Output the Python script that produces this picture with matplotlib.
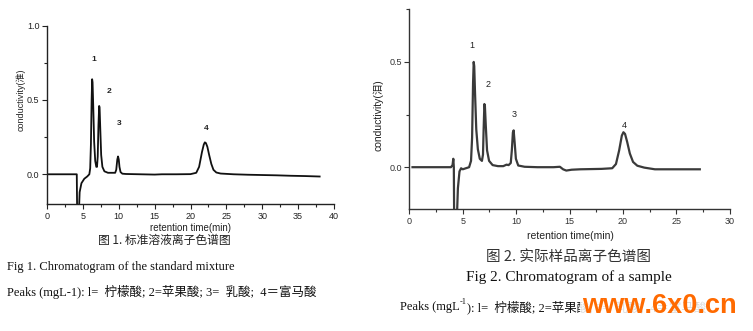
import matplotlib
matplotlib.use("Agg")
import matplotlib.pyplot as plt
from matplotlib.ticker import MultipleLocator

# ---- Fig 1: standard mixture trace (time in min, conductivity) ----
std_time = [0, 4.15, 4.2, 4.45, 4.55, 4.8, 5.2, 5.6, 5.9, 6.02, 6.12, 6.22, 6.29,
            6.35, 6.45, 6.57, 6.72, 6.87, 6.97, 7.07, 7.17, 7.27, 7.33, 7.43,
            7.55, 7.72, 8.0, 8.5, 9.0, 9.5, 9.65, 9.8, 9.9, 10.0, 10.1, 10.25,
            10.5, 11, 13, 15, 16, 18, 20, 20.8, 21.2, 21.6, 21.85, 22.0, 22.15,
            22.35, 22.6, 22.9, 23.2, 23.6, 24.2, 26, 28, 30, 32, 34, 36, 38]
std_signal = [0, 0, -0.25, -0.25, -0.12, -0.06, -0.03, -0.015, 0.0, 0.04, 0.2,
              0.5, 0.64, 0.62, 0.45, 0.22, 0.09, 0.05, 0.05, 0.12, 0.33, 0.46,
              0.45, 0.3, 0.13, 0.05, 0.02, 0.01, 0.01, 0.01, 0.03, 0.1, 0.12,
              0.1, 0.05, 0.015, 0.004, 0.002, 0.0, -0.002, 0.0, 0.0, 0.001,
              0.01, 0.05, 0.15, 0.2, 0.215, 0.21, 0.185, 0.13, 0.07, 0.03,
              0.012, 0.005, 0.0, -0.003, -0.005, -0.007, -0.01, -0.012, -0.015]
std_peak_ids = ["1", "2", "3", "4"]
std_label_time = [6.55, 8.6, 10.1, 22.25]
std_label_signal = [0.77, 0.56, 0.34, 0.31]

# ---- Fig 2: sample trace ----
smp_time = [0.3, 3.9, 4.05, 4.12, 4.17, 4.2, 4.45, 4.55, 4.7, 4.85, 5.0, 5.3,
            5.6, 5.78, 5.88, 5.97, 6.03, 6.08, 6.15, 6.27, 6.42, 6.6, 6.8, 6.9,
            6.96, 7.03, 7.08, 7.16, 7.28, 7.47, 7.8, 8.3, 8.8, 9.1, 9.3, 9.5,
            9.6, 9.7, 9.77, 9.86, 9.98, 10.2, 10.8, 12, 13.5, 14.1, 14.4, 14.7,
            15.2, 16, 18, 19.0, 19.35, 19.65, 19.9, 20.05, 20.2, 20.4, 20.65,
            20.95, 21.35, 22, 23, 25, 27.2]
smp_signal = [0, 0, 0.01, 0.04, 0.0, -0.25, -0.25, -0.1, -0.02, -0.005, -0.01,
              -0.005, 0.0, 0.03, 0.14, 0.4, 0.5, 0.48, 0.36, 0.18, 0.085, 0.04,
              0.03, 0.06, 0.18, 0.3, 0.29, 0.2, 0.08, 0.03, 0.01, 0.005, 0.005,
              0.012, 0.01, 0.02, 0.08, 0.165, 0.175, 0.12, 0.04, 0.008, 0.002,
              0.0, 0.0, 0.002, -0.01, -0.016, -0.012, -0.01, -0.008, -0.005,
              0.015, 0.08, 0.15, 0.166, 0.158, 0.12, 0.065, 0.025, 0.007,
              -0.002, -0.01, -0.01, -0.01]
smp_peak_ids = ["1", "2", "3", "4"]
smp_label_time = [5.87, 7.39, 9.82, 20.1]
smp_label_signal = [0.578, 0.395, 0.252, 0.2]

W, H = 753, 331
fig = plt.figure(figsize=(W / 100, H / 100), dpi=100)
fig.patch.set_facecolor("white")


def px(x, y):
    return x / W, 1 - y / H


def box(left, top, right, bottom):
    return [left / W, 1 - bottom / H, (right - left) / W, (bottom - top) / H]


SANS = ["Liberation Sans", "Noto Sans CJK SC"]
SERIF = ["Liberation Serif", "Noto Sans CJK SC"]
CJK = ["Noto Sans CJK SC", "Liberation Serif"]


def style_axes(ax, color, xmax, ylim, ymajor):
    for s in ("top", "right"):
        ax.spines[s].set_visible(False)
    for s in ("left", "bottom"):
        ax.spines[s].set_color(color)
        ax.spines[s].set_linewidth(1.0)
    ax.set_xlim(0, xmax)
    ax.set_ylim(*ylim)
    ax.xaxis.set_major_locator(MultipleLocator(5))
    ax.xaxis.set_minor_locator(MultipleLocator(2.5))
    ax.yaxis.set_major_locator(MultipleLocator(0.5))
    ax.yaxis.set_minor_locator(MultipleLocator(0.25))
    ax.set_yticks(ymajor)
    ax.tick_params(which="both", direction="out", colors=color,
                   labelsize=6.5, width=0.8)
    ax.tick_params(which="major", length=3.5, pad=2)
    ax.tick_params(which="minor", length=2.5)
    for lab in ax.get_xticklabels() + ax.get_yticklabels():
        lab.set_family(SANS)
    ax.yaxis.set_major_formatter(matplotlib.ticker.FormatStrFormatter("%.1f"))


# Left panel
ax1 = fig.add_axes(box(47, 25.7, 334, 204))
ax1.plot(std_time, std_signal, color="#111111", lw=1.3)
style_axes(ax1, "#222222", 40, (-0.2, 1.0), [0.0, 0.5, 1.0])
for t, v, s in zip(std_label_time, std_label_signal, std_peak_ids):
    ax1.text(t, v, s, fontsize=6, ha="center", va="center",
             family=SANS, fontweight="bold", color="#222222")
fig.text(*px(21, 100), "conductivity(淮)", rotation=90, fontsize=6.5,
         family=SANS, ha="center", va="center", color="#222222")
fig.text(*px(191, 228), "retention time(min)", fontsize=7, family=SANS,
         ha="center", va="center", color="#222222")

# Right panel
ax2 = fig.add_axes(box(409.3, 9.3, 729.7, 209.3))
ax2.plot(smp_time, smp_signal, color="#3a3a3a", lw=1.6)
style_axes(ax2, "#333333", 30, (-0.2, 0.75), [0.0, 0.5])
for t, v, s in zip(smp_label_time, smp_label_signal, smp_peak_ids):
    ax2.text(t, v, s, fontsize=6.5, ha="center", va="center",
             family=SANS, color="#222222")
fig.text(*px(378, 115), "conductivity(泪)", rotation=90, fontsize=7.5,
         family=SANS, ha="center", va="center", color="#222222")
fig.text(*px(570, 236), "retention time(min)", fontsize=7.5, family=SANS,
         ha="center", va="center", color="#222222")

# Captions, figure 1
fig.text(*px(164, 240), "图 1. 标准溶液离子色谱图", fontsize=8.5, family=CJK,
         ha="center", va="center", color="#222222")
fig.text(*px(7, 267), "Fig 1. Chromatogram of the standard mixture",
         fontsize=9, family=SERIF, ha="left", va="center", color="#111111")
fig.text(*px(7, 292), "Peaks (mgL-1): l=  柠檬酸; 2=苹果酸; 3=  乳酸;  4＝富马酸",
         fontsize=9, family=SERIF, ha="left", va="center", color="#111111")

# Captions, figure 2
fig.text(*px(569, 257), "图 2. 实际样品离子色谱图", fontsize=10.5, family=CJK,
         ha="center", va="center", color="#333333")
fig.text(*px(569, 277), "Fig 2. Chromatogram of a sample", fontsize=11,
         family=SERIF, ha="center", va="center", color="#111111")

fig.canvas.draw()
renderer = fig.canvas.get_renderer()
t1 = fig.text(*px(400, 307), "Peaks (mgL", fontsize=9, family=SERIF,
              ha="left", va="center", color="#111111")
bb = t1.get_window_extent(renderer)
t2 = fig.text(bb.x1 / W, 1 - 302 / H, "-1", fontsize=6, family=SERIF,
              ha="left", va="center", color="#111111")
bb2 = t2.get_window_extent(renderer)
fig.text(bb2.x1 / W, 1 - 307 / H, "): l=  柠檬酸; 2=苹果酸; 3=  乳酸;  4＝富马酸",
         fontsize=9, family=SERIF, ha="left", va="center", color="#111111")

# Site stamp
fig.text(*px(659, 306), "www.6x0.cn", fontsize=19.5, family="Liberation Sans",
         fontweight="bold", color="#ff6a00", ha="center", va="center",
         bbox=dict(boxstyle="square,pad=0.05", fc="white", ec="none", alpha=0.85))

fig.savefig("out.png", dpi=100, facecolor="white")
